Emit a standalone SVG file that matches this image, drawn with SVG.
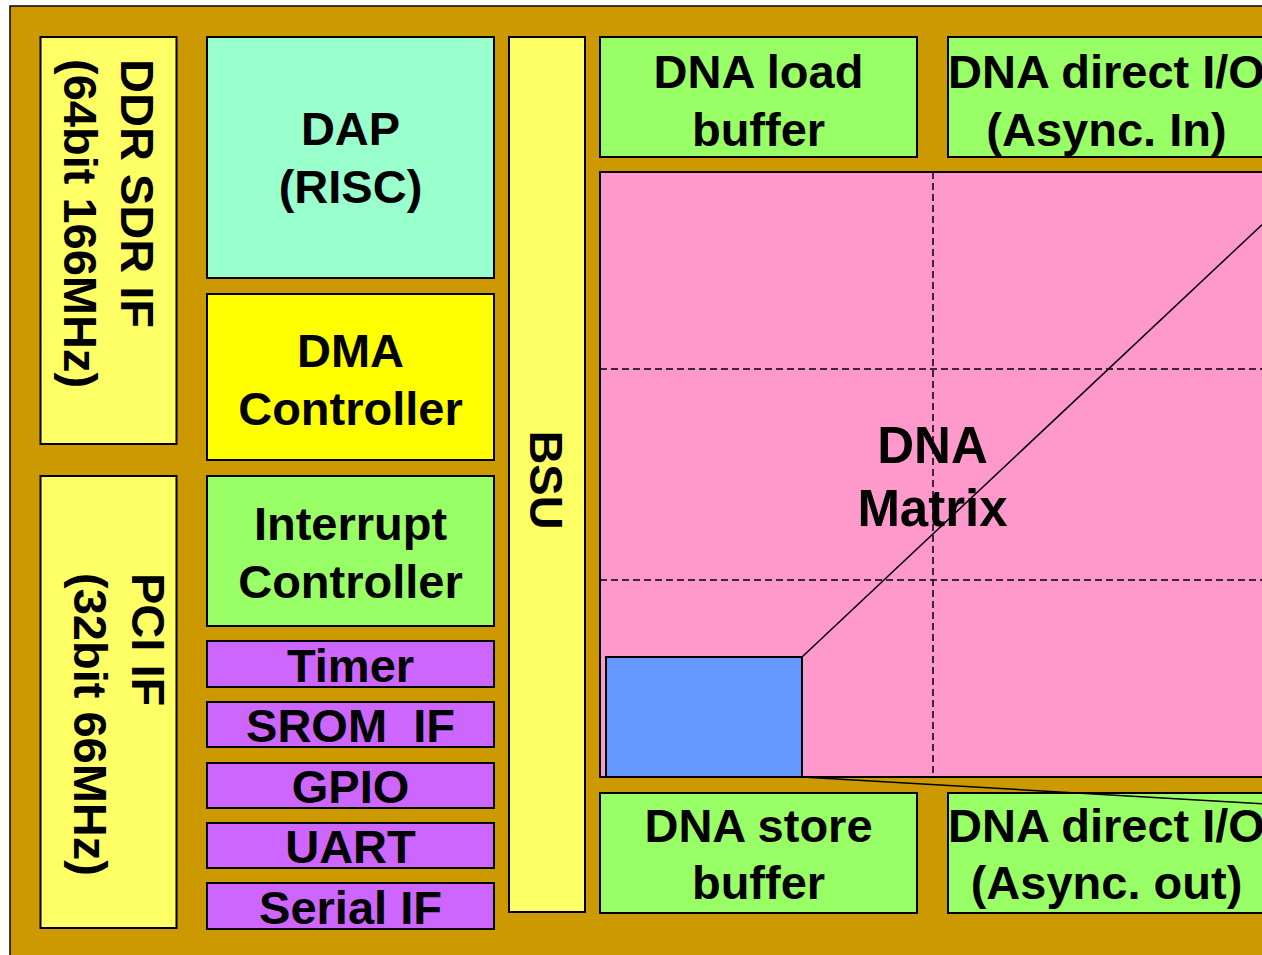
<svg xmlns="http://www.w3.org/2000/svg" width="1262" height="955" viewBox="0 0 1262 955">
  <style>
    .box { stroke: #000; stroke-width: 2; }
    .lbl { font-family: "Liberation Sans", Arial, sans-serif; font-weight: bold; font-size: 47px; fill: #000; text-anchor: middle; }
    .big { font-size: 51px; }
    .start { text-anchor: start; }
    .grid { stroke: #000; stroke-width: 1.5; stroke-dasharray: 7 4; fill: none; }
    .yel { fill: #FFFF66; }
    .grn { fill: #99FF66; }
    .pur { fill: #CC66FF; }
  </style>

  <rect width="1262" height="955" fill="#FFFFFF"/>
  <!-- chip die background -->
  <rect id="die" x="10" y="6" width="1270" height="960" fill="#CC9900" stroke="#000" stroke-width="1.5"/>

  <g id="ddr-if">
    <rect class="box yel" x="40.5" y="37" width="136" height="407"/>
    <text class="lbl start" transform="rotate(90)" x="59" y="-121">DDR SDR IF</text>
    <text class="lbl start" transform="rotate(90)" x="59" y="-64">(64bit 166MHz)</text>
  </g>

  <g id="pci-if">
    <rect class="box yel" x="40.5" y="476" width="136" height="452"/>
    <text class="lbl start" transform="rotate(90)" x="573" y="-132">PCI IF</text>
    <text class="lbl start" transform="rotate(90)" x="573" y="-74">(32bit 66MHz)</text>
  </g>

  <g id="dap">
    <rect class="box" x="207" y="37" width="287" height="241" fill="#99FFCC"/>
    <text class="lbl" x="350.5" y="145">DAP</text>
    <text class="lbl" x="350.5" y="203">(RISC)</text>
  </g>

  <g id="dma">
    <rect class="box" x="207" y="294" width="287" height="166" fill="#FFFF00"/>
    <text class="lbl" x="350.5" y="367">DMA</text>
    <text class="lbl" x="350.5" y="425">Controller</text>
  </g>

  <g id="interrupt">
    <rect class="box grn" x="207" y="476" width="287" height="150"/>
    <text class="lbl" x="350.5" y="540">Interrupt</text>
    <text class="lbl" x="350.5" y="598">Controller</text>
  </g>

  <g id="timer">
    <rect class="box pur" x="207" y="641" width="287" height="46"/>
    <text class="lbl" x="350.5" y="682">Timer</text>
  </g>
  <g id="srom-if">
    <rect class="box pur" x="207" y="702" width="287" height="45"/>
    <text class="lbl" x="350.5" y="742" xml:space="preserve">SROM  IF</text>
  </g>
  <g id="gpio">
    <rect class="box pur" x="207" y="763" width="287" height="45"/>
    <text class="lbl" x="350.5" y="803">GPIO</text>
  </g>
  <g id="uart">
    <rect class="box pur" x="207" y="823" width="287" height="45"/>
    <text class="lbl" x="350.5" y="863">UART</text>
  </g>
  <g id="serial-if">
    <rect class="box pur" x="207" y="883" width="287" height="46"/>
    <text class="lbl" x="350.5" y="924">Serial IF</text>
  </g>

  <g id="bsu">
    <rect class="box yel" x="509" y="37" width="76" height="875"/>
    <text class="lbl" transform="rotate(90)" x="480" y="-530">BSU</text>
  </g>

  <g id="dna-load-buffer">
    <rect class="box grn" x="600" y="37" width="317" height="120"/>
    <text class="lbl" x="758.5" y="88">DNA load</text>
    <text class="lbl" x="758.5" y="146">buffer</text>
  </g>

  <g id="dna-direct-in">
    <rect class="box grn" x="948" y="37" width="317" height="120"/>
    <text class="lbl" x="1106.5" y="88">DNA direct I/O</text>
    <text class="lbl" x="1106.5" y="146">(Async. In)</text>
  </g>

  <g id="dna-matrix">
    <rect class="box" x="600" y="172" width="680" height="605" fill="#FF99CC"/>
    <line class="grid" x1="933" y1="172" x2="933" y2="777"/>
    <line class="grid" x1="600" y1="369" x2="1280" y2="369"/>
    <line class="grid" x1="600" y1="580" x2="1280" y2="580"/>
    <text class="lbl big" x="932.5" y="463">DNA</text>
    <text class="lbl big" x="932.5" y="526">Matrix</text>
  </g>

  <g id="dna-cell">
    <rect class="box" x="606" y="657" width="196" height="120" fill="#6699FF"/>
  </g>

  <g id="dna-store-buffer">
    <rect class="box grn" x="600" y="793" width="317" height="120"/>
    <text class="lbl" x="758.5" y="842">DNA store</text>
    <text class="lbl" x="758.5" y="899">buffer</text>
  </g>

  <g id="dna-direct-out">
    <rect class="box grn" x="948" y="793" width="317" height="120"/>
    <text class="lbl" x="1106.5" y="842">DNA direct I/O</text>
    <text class="lbl" x="1106.5" y="899">(Async. out)</text>
  </g>

  <!-- zoom lines from the cell out to the enlarged view -->
  <g id="connectors" stroke="#000" stroke-width="1.5" fill="none">
    <line x1="802" y1="657" x2="1300" y2="189"/>
    <line x1="802" y1="777" x2="1300" y2="806"/>
  </g>
</svg>
